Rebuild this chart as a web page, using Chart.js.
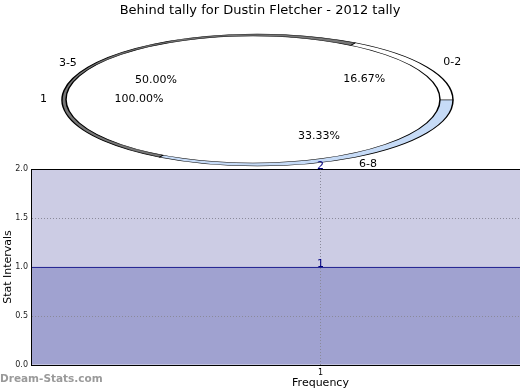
<!DOCTYPE html>
<html>
<head>
<meta charset="utf-8">
<script src="https://cdn.jsdelivr.net/npm/chart.js@4/dist/chart.umd.min.js"></script>
<style>
  body { margin: 0; background: #fff; }
  #wrap { position: relative; width: 520px; height: 390px; overflow: hidden; font-family: "DejaVu Sans", sans-serif; }
  #wrap canvas { position: absolute; left: 0; top: 0; }
  #title { position: absolute; left: 0; top: 0; width: 520px; line-height: 20px; text-align: center; font-size: 13px; color: #000; }
  #mark { position: absolute; left: 0; top: 372px; font-size: 10.5px; font-weight: bold; color: #9a9a9a; }
</style>
</head>
<body>
<div id="wrap">
  <canvas id="outerPie" width="520" height="390"></canvas>
  <canvas id="innerPie" width="520" height="390"></canvas>
  <canvas id="bars" width="610" height="390"></canvas>
  <div id="title">Behind tally for Dustin Fletcher - 2012 tally</div>
  <div id="mark">Dream-Stats.com</div>
</div>
<script>
// behind-count buckets (outer pie)
const tallyLabels = ["3-5", "0-2", "6-8"];
const tallyCounts = [3, 1, 2];
const tallyColors = ["#777777", "#ffffff", "#c6dbf7"];

// single-bucket pie drawn on top
const totalLabels = ["1"];
const totalCounts = [1];

// frequency bars
const freqCategories = ["1"];
const freqLow = [1];
const freqHigh = [2];
const yTicks = [0, 0.5, 1, 1.5, 2];

Chart.defaults.font.family = "DejaVu Sans";
Chart.defaults.color = "#000";

// squash the pie into an ellipse around its centre
const ellipsePlugin = {
  id: "ellipse",
  beforeDatasetsDraw(chart, args, opts) {
    const arc = chart.getDatasetMeta(0).data[0];
    const ctx = chart.ctx;
    ctx.save();
    ctx.translate(arc.x, arc.y);
    ctx.scale(1, opts.ratio);
    ctx.translate(-arc.x, -arc.y);
  },
  afterDatasetsDraw(chart, args, opts) {
    const ctx = chart.ctx;
    if (opts.outline) {
      // single full slice: outline only, no radius line
      const a = chart.getDatasetMeta(0).data[0];
      ctx.beginPath();
      ctx.arc(a.x, a.y, a.outerRadius, 0, Math.PI * 2);
      ctx.lineWidth = 1.5;
      ctx.strokeStyle = "#000";
      ctx.stroke();
    }
    ctx.restore();
  }
};

function pieLabels(ctx, chart, ratio, names, values, outF, inF) {
  const total = values.reduce((a, b) => a + b, 0);
  const arcs = chart.getDatasetMeta(0).data;
  ctx.save();
  ctx.fillStyle = "#000";
  ctx.font = "11px 'DejaVu Sans'";
  ctx.textAlign = "center";
  ctx.textBaseline = "middle";
  arcs.forEach((a, i) => {
    const mid = (a.startAngle + a.endAngle) / 2;
    const r = a.outerRadius;
    const cx = Math.cos(mid) * r, cy = Math.sin(mid) * r * ratio;
    ctx.fillText(names[i], a.x + cx * outF[i], a.y + cy * outF[i]);
    const pct = (values[i] / total * 100).toFixed(2) + "%";
    ctx.fillText(pct, a.x + cx * inF[i], a.y + cy * inF[i]);
  });
  ctx.restore();
}

const outerRatio = 66 / 195.5;
const outerChart = new Chart(document.getElementById("outerPie"), {
  type: "pie",
  data: {
    labels: tallyLabels,
    datasets: [{
      data: tallyCounts,
      backgroundColor: tallyColors,
      borderColor: "#000",
      borderWidth: 1.5
    }]
  },
  options: {
    responsive: false,
    animation: false,
    events: [],
    radius: 195.5,
    rotation: 210,
    layout: { padding: { left: 0, right: 5, top: 0, bottom: 190 } },
    plugins: {
      legend: { display: false },
      tooltip: { enabled: false },
      ellipse: { ratio: outerRatio, outline: false }
    }
  },
  plugins: [ellipsePlugin]
});

const innerRatio = 63.5 / 187;
new Chart(document.getElementById("innerPie"), {
  type: "pie",
  data: {
    labels: totalLabels,
    datasets: [{
      data: totalCounts,
      backgroundColor: "#ffffff",
      borderWidth: 0
    }]
  },
  options: {
    responsive: false,
    animation: false,
    events: [],
    radius: 187,
    rotation: 90,
    layout: { padding: { left: 0, right: 14, top: 0, bottom: 191 } },
    plugins: {
      legend: { display: false },
      tooltip: { enabled: false },
      ellipse: { ratio: innerRatio, outline: true }
    }
  },
  plugins: [ellipsePlugin, {
    id: "pieText",
    afterDraw(chart) {
      // labels of both pies go on this layer so the white pie does not hide them
      pieLabels(chart.ctx, outerChart, outerRatio, tallyLabels, tallyCounts, [1.12, 1.15, 1.13], [0.6, 0.63, 0.63]);
      pieLabels(chart.ctx, chart, innerRatio, totalLabels, totalCounts, [1.12], [0.61]);
    }
  }]
});

new Chart(document.getElementById("bars"), {
  type: "bar",
  data: {
    labels: freqCategories,
    datasets: [
      {
        data: freqLow,
        backgroundColor: "#a0a2d0",
        borderColor: "#000080",
        borderWidth: { top: 1, right: 0, bottom: 0, left: 0 },
        borderSkipped: false,
        grouped: false,
        barPercentage: 1,
        categoryPercentage: 1
      },
      {
        data: freqHigh,
        backgroundColor: "#ccccE4",
        borderWidth: 0,
        grouped: false,
        barPercentage: 1,
        categoryPercentage: 1
      }
    ]
  },
  options: {
    responsive: false,
    animation: false,
    events: [],
    layout: { padding: { left: 0, right: 0, top: 169, bottom: 0 } },
    plugins: {
      legend: { display: false },
      tooltip: { enabled: false }
    },
    scales: {
      x: {
        grid: { offset: false, color: "#8a8a9a", drawTicks: false, z: 1 },
        border: { color: "#000", dash: [1, 2], z: 2 },
        ticks: { font: { size: 8 }, padding: 3 },
        title: { display: true, text: "Frequency", font: { size: 11 }, padding: { top: 0, bottom: 0 } },
        afterFit(scale) { scale.height = 25; }
      },
      y: {
        min: 0,
        max: 2,
        afterBuildTicks(scale) { scale.ticks = yTicks.map(v => ({ value: v })); },
        grid: {
          color: c => (c.tick && (c.tick.value === 1 || c.tick.value === 2)) ? "rgba(0,0,0,0)" : "#8a8a9a",
          drawTicks: false,
          z: 1
        },
        border: { color: "#000", dash: [1, 2], z: 2 },
        ticks: { font: { size: 8 }, color: "#222", padding: 3, callback: v => Number(v).toFixed(1) },
        title: { display: true, text: "Stat Intervals", font: { size: 11 }, padding: { top: 1.5, bottom: 0 } },
        afterFit(scale) { scale.width = 31; }
      }
    }
  },
  plugins: [{
    id: "frame",
    afterDraw(chart) {
      const { ctx, chartArea } = chart;
      ctx.save();
      ctx.strokeStyle = "#000";
      ctx.lineWidth = 1;
      ctx.beginPath();
      ctx.moveTo(chartArea.left, chartArea.top + 0.5);
      ctx.lineTo(chartArea.right, chartArea.top + 0.5);
      ctx.stroke();
      ctx.fillStyle = "#000080";
      ctx.font = "11px 'DejaVu Sans'";
      ctx.textAlign = "center";
      ctx.textBaseline = "alphabetic";
      chart.data.datasets.forEach((ds, i) => {
        chart.getDatasetMeta(i).data.forEach((bar, j) => {
          ctx.fillText(String(ds.data[j]), bar.x, bar.y - 0.5);
        });
      });
      ctx.restore();
    }
  }]
});
</script>
</body>
</html>
